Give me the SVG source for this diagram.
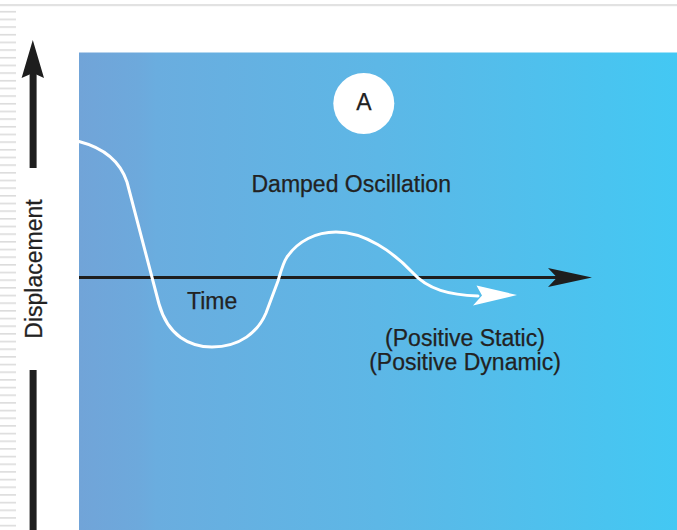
<svg xmlns="http://www.w3.org/2000/svg" width="677" height="530" viewBox="0 0 677 530">
  <defs>
    <linearGradient id="bg" x1="0" y1="0" x2="1" y2="0">
      <stop offset="0" stop-color="#71A4D8"/>
      <stop offset="0.1" stop-color="#6DA9DC"/>
      <stop offset="0.13" stop-color="#6AADDF"/>
      <stop offset="0.5" stop-color="#5DB7E6"/>
      <stop offset="1" stop-color="#43C8F3"/>
    </linearGradient>
    <pattern id="stripes" x="0" y="10.9" width="16" height="7.67" patternUnits="userSpaceOnUse">
      <rect x="0" y="0" width="16" height="1.6" fill="#DCDCDC"/>
    </pattern>
    <style>
      .lbl { font-family: "Liberation Sans", Arial, sans-serif; font-size: 23px; fill: #222222; stroke: #222222; stroke-width: 0.25; }
      .axis { fill: #1E1E1E; }
      .curve { fill: none; stroke: #FFFFFF; stroke-width: 3; stroke-linecap: round; stroke-linejoin: round; }
    </style>
  </defs>
  <rect x="0" y="0" width="677" height="530" fill="#FFFFFF"/>
  <rect x="0" y="4" width="677" height="2.2" fill="#E2E2E2"/>
  <rect x="0" y="10" width="16" height="520" fill="url(#stripes)"/>
  <rect id="plot" x="79" y="52.5" width="598" height="477.5" fill="url(#bg)"/>

  <g id="connectors">
    <g id="y-axis">
      <polygon class="axis" points="32.8,40 44,78 33,73 21.6,78"/>
      <rect class="axis" x="29.6" y="73" width="7" height="95"/>
      <rect class="axis" x="29.6" y="370" width="7" height="160"/>
    </g>
    <g id="x-axis">
      <rect class="axis" x="79" y="276" width="478" height="3"/>
      <polygon class="axis" points="592,277.5 548,268 557,277.5 548,287"/>
    </g>
    <g id="oscillation">
      <path class="curve" d="M 79 141.5 C 104 148, 120 161, 127 182 L 159 304 C 168 336, 190 347, 212 347 C 240 347, 258 332, 266 313 L 278 281 C 281 271, 283 263, 287 257 C 298 241, 316 232, 336 232 C 365 232, 393 252, 412 272 C 428 290, 450 295, 478 296"/>
      <polygon fill="#FFFFFF" points="517,295 476.5,285.5 482,295.5 473,305.5"/>
    </g>
  </g>

  <g id="node-A">
    <circle cx="363.8" cy="103.5" r="30.5" fill="#FFFFFF"/>
    <text class="lbl" x="364" y="109.5" text-anchor="middle">A</text>
  </g>
  <g id="label-damped">
    <text class="lbl" x="251.5" y="191.5">Damped Oscillation</text>
  </g>
  <g id="label-time">
    <text class="lbl" x="187" y="309">Time</text>
  </g>
  <g id="label-positive">
    <text class="lbl" x="465" y="346" text-anchor="middle">(Positive Static)</text>
    <text class="lbl" x="465" y="369.5" text-anchor="middle">(Positive Dynamic)</text>
  </g>
  <g id="label-displacement">
    <text class="lbl" x="0" y="0" text-anchor="middle" transform="translate(41.5,269) rotate(-90)">Displacement</text>
  </g>
</svg>
